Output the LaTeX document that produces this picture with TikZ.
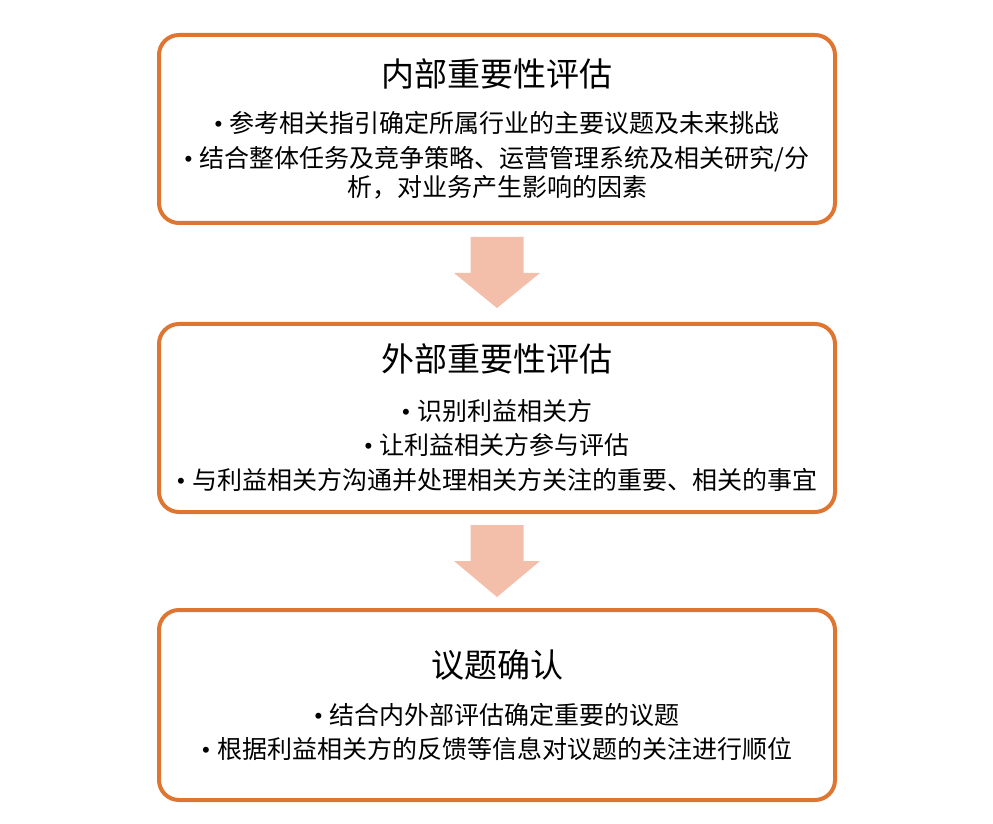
\documentclass[tikz,border=0pt]{standalone}
\usepackage{fontspec}
\setmainfont{Noto Sans CJK SC}
\newfontfamily\bulletfont{Liberation Serif}
\usetikzlibrary{positioning,calc}

\definecolor{boxorange}{RGB}{222,118,50}
\definecolor{arrowpink}{RGB}{244,191,170}

\tikzset{   stagebox/.style={draw=boxorange,rounded corners=20pt,fill=white,line width=4pt,minimum width=676pt,minimum height=188pt,align=center,inner sep=0pt,font=\fontsize{25}{29}\selectfont},
            arrowfill/.style={fill=arrowpink,draw=none},
}
\newcommand{\titletext}[1]{{\fontsize{33}{29}\selectfont #1}}
\newcommand{\dotitem}{{\bulletfont •}\hspace{7pt}}

\begin{document}
\begin{tikzpicture}[x=1pt,y=1pt]
    \useasboundingbox (0,0) rectangle (993,823); % page size

    \node[stagebox] (inner) at (497,694) {\titletext{内部重要性评估}\\[17pt]
        \dotitem 参考相关指引确定所属行业的主要议题及未来挑战\\[6pt]
        \dotitem 结合整体任务及竞争策略、运营管理系统及相关研究/分\\
        析，对业务产生影响的因素};
    \node[stagebox,below=97pt of inner] (outer) {\titletext{外部重要性评估}\\[20pt]
        \dotitem 识别利益相关方\\[5pt]
        \dotitem 让利益相关方参与评估\\[6pt]
        \dotitem 与利益相关方沟通并处理相关方关注的重要、相关的事宜};
    \node[stagebox,minimum height=190pt,below=94pt of outer] (confirm) {\titletext{议题确认}\\[18pt]
        \dotitem 结合内外部评估确定重要的议题\\[5pt]
        \dotitem 根据利益相关方的反馈等信息对议题的关注进行顺位};

    % block arrows between boxes
    \fill[arrowfill] ($(inner.south)+(-26.5,-12)$) -- ++(53,0) -- ++(0,-36) -- ++(16.5,0)
        -- ($(inner.south)+(0,-83)$) -- ($(inner.south)+(-43,-48)$) -- ++(16.5,0) -- cycle;
    \fill[arrowfill] ($(outer.south)+(-26.5,-11)$) -- ++(53,0) -- ++(0,-36) -- ++(16.5,0)
        -- ($(outer.south)+(0,-83)$) -- ($(outer.south)+(-43,-47)$) -- ++(16.5,0) -- cycle;
\end{tikzpicture}
\end{document}
